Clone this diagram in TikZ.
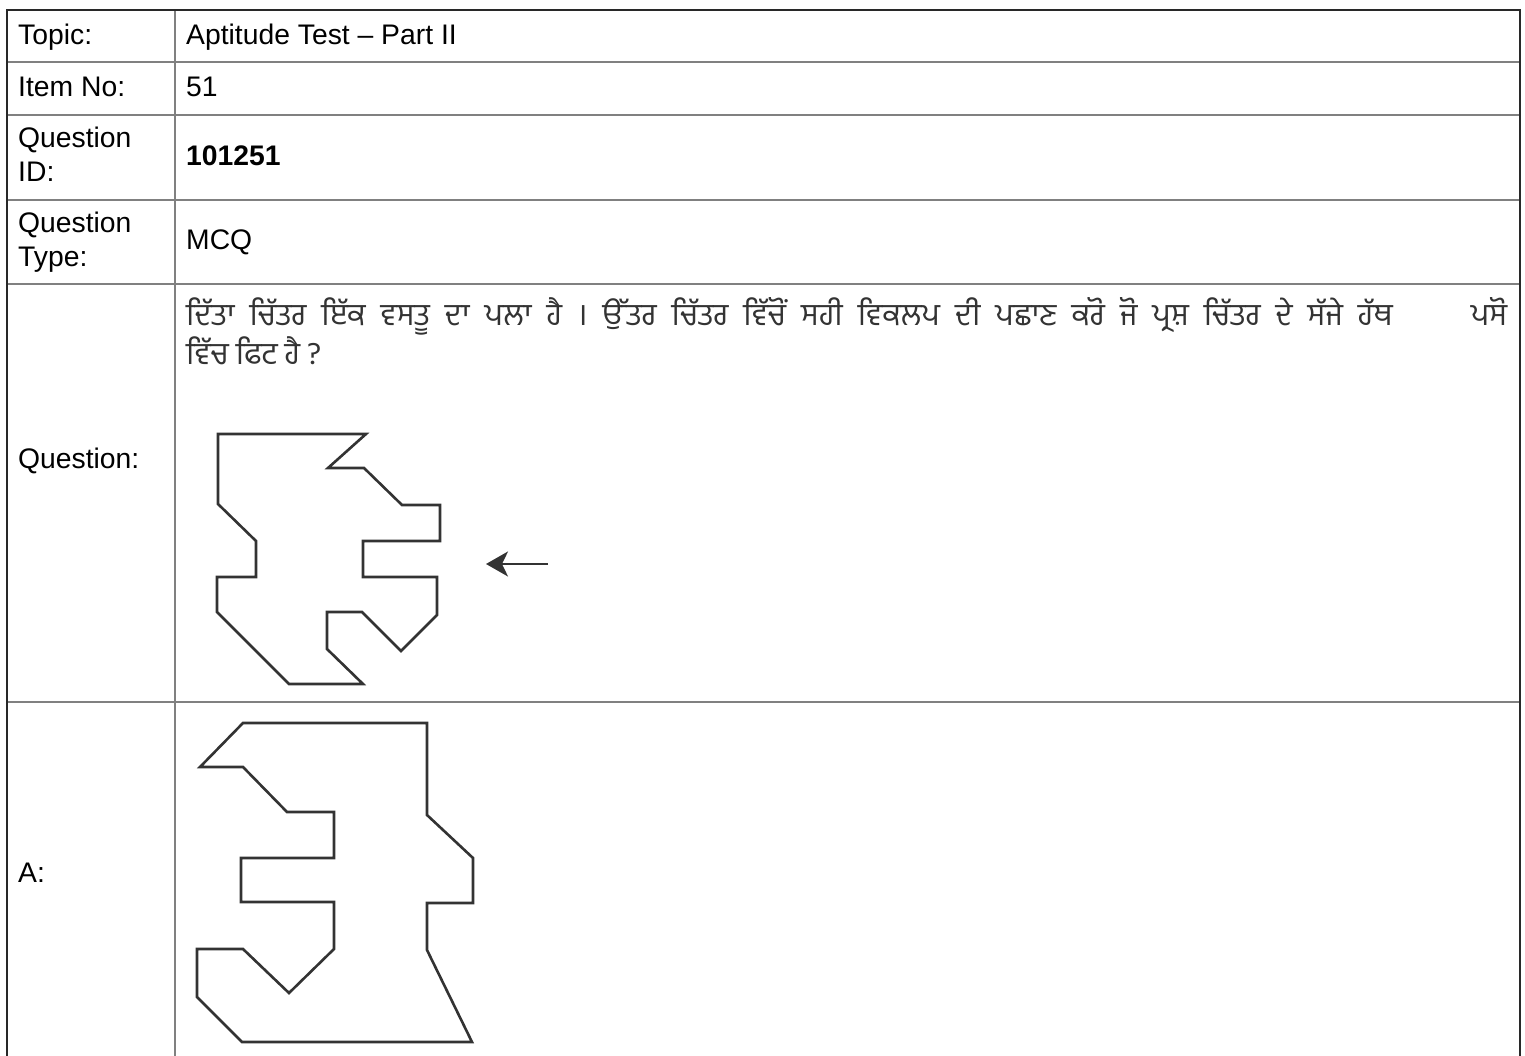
\documentclass[tikz,border=0pt]{standalone}
\usepackage{fontspec}
\setmainfont{Liberation Sans}
\newfontfamily\gurmukhi[Script=Gurmukhi]{Hind Jalandhar}
\usetikzlibrary{arrows.meta, positioning}
\definecolor{cFrame}{RGB}{40,40,40}
\definecolor{cRule}{RGB}{128,128,128}
\definecolor{cInk}{RGB}{51,51,51}
\newcommand\widespace{\spaceskip=15pt plus 2pt\relax}
\newcommand\plainspace{\spaceskip=7pt plus 2pt\relax}
\tikzset{
	frame/.style  ={draw=cFrame, line width=2.5pt},
	rule/.style   ={draw=cRule, line width=2pt},
	lbl/.style    ={anchor=base west, inner sep=0pt, font=\fontsize{28.3}{34}\selectfont},
	gtext/.style  ={anchor=base west, inner sep=0pt, text=cInk, font=\gurmukhi\fontsize{31}{36}\selectfont\widespace},
	figline/.style={draw=cInk, line width=2.6pt, line join=miter},
	pointer/.style={-{Stealth[length=22pt, width=25pt, inset=6pt]}, draw=cInk, line width=2pt},
}

\begin{document}
\begin{tikzpicture}[x=1pt, y=-1pt]
	\useasboundingbox (0,0) rectangle (1525,1056);
	% grid of the table
	\foreach \r in {62,115,200,284,702} \draw[rule] (7,\r) -- (1520,\r);
	\draw[rule] (175,10) -- (175,1056);
	\draw[frame] (7,1056) -- (7,10) -- (1520,10) -- (1520,1056);
	% left column
	\node[lbl] (kTopic) at (18,45) {Topic:};
	\node[lbl] (kItem) at (18,97) {Item No:};
	\node[lbl] (kQidA) at (18,148) {Question};
	\node[lbl] (kQidB) at (18,182) {ID:};
	\node[lbl] (kTypeA) at (18,233) {Question};
	\node[lbl] (kTypeB) at (18,267) {Type:};
	\node[lbl] (kQuest) at (18,468) {Question:};
	\node[lbl] (kOptA) at (18,882) {A:};
	% right column
	\node[lbl] (vTopic) at (186,45) {Aptitude Test – Part II};
	\node[lbl] (vItem) at (186,97) {51};
	\node[lbl, font=\fontsize{28.3}{34}\selectfont\bfseries] (vQid) at (186,166) {101251};
	\node[lbl] (vType) at (186,250) {MCQ};
	\node[gtext] (vQuestA) at (186,326) {ਦਿੱਤਾ ਚਿੱਤਰ ਇੱਕ ਵਸਤੂ ਦਾ ਪਲਾ ਹੈ । ਉੱਤਰ ਚਿੱਤਰ ਵਿੱਚੋਂ ਸਹੀ ਵਿਕਲਪ ਦੀ ਪਛਾਣ ਕਰੋ ਜੋ ਪ੍ਰਸ਼ ਚਿੱਤਰ ਦੇ ਸੱਜੇ ਹੱਥ \hspace{48pt} ਪਸੋ};
	\node[gtext, font=\gurmukhi\fontsize{31}{36}\selectfont\plainspace] (vQuestB) at (186,364) {ਵਿੱਚ ਫਿਟ ਹੈ ?};
	% question figure
	\draw[figline] (218,434) -- (366,434) -- (328,468) -- (364,468) -- (402,505) -- (440,505)
		-- (440,541) -- (363,541) -- (363,577) -- (437,577) -- (437,615) -- (401,651)
		-- (362,612) -- (327,612) -- (327,649) -- (363,684) -- (289,684) -- (217,612)
		-- (217,577) -- (256,577) -- (256,541) -- (218,504) -- cycle;
	\coordinate (arrTail) at (548,564);
	\coordinate (arrHead) at (486,564);
	\draw[pointer] (arrTail) -- (arrHead);
	% option A figure
	\draw[figline] (243,723) -- (427,723) -- (427,815) -- (473,858) -- (473,903) -- (427,903)
		-- (427,950) -- (472,1042) -- (242,1042) -- (197,997) -- (197,949) -- (243,949)
		-- (289,993) -- (334,949) -- (334,902) -- (241,902) -- (241,858) -- (334,858)
		-- (334,812) -- (287,812) -- (243,767) -- (200,767) -- cycle;
\end{tikzpicture}
\end{document}
